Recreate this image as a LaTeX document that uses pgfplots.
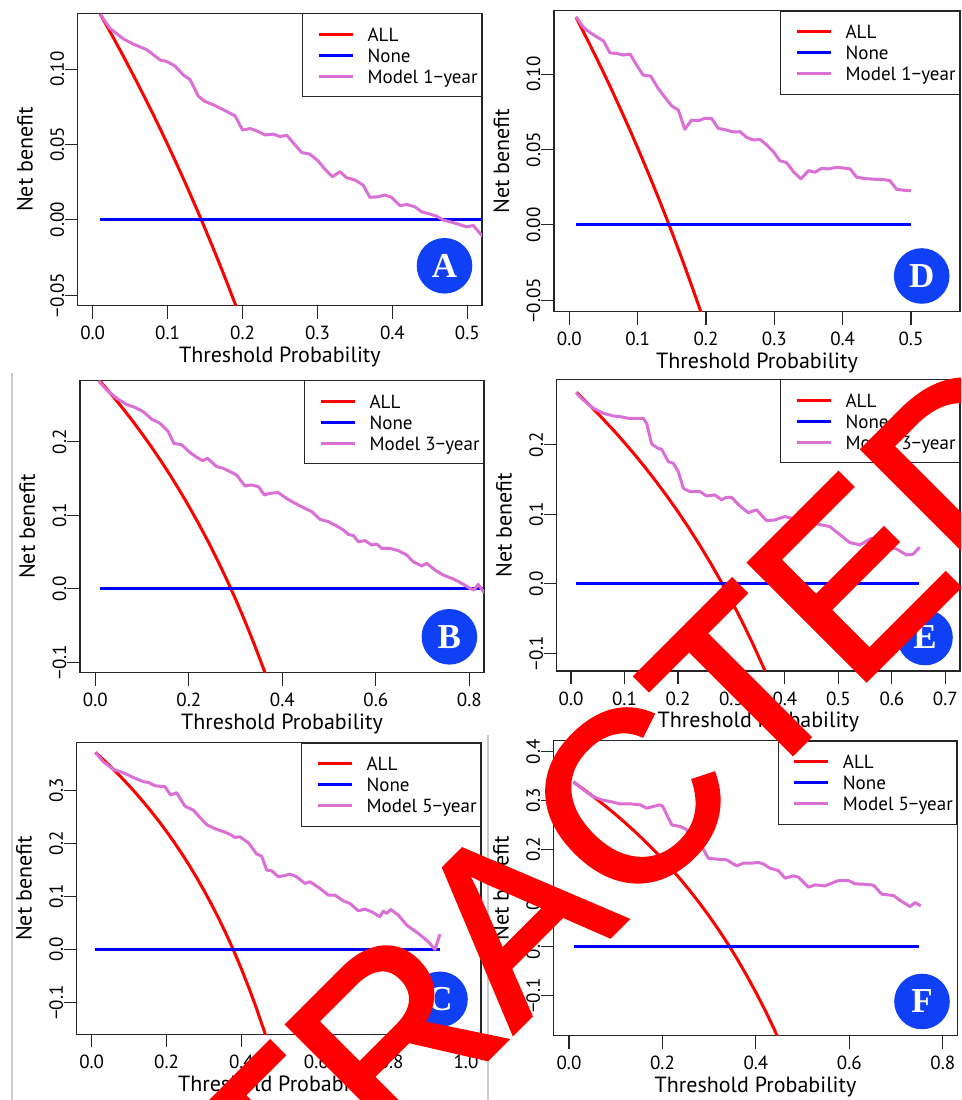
\documentclass[border=0pt]{standalone}
\usepackage{fontspec}
\setmainfont{PT Sans}
\newfontface\wmfont{Liberation Sans}[FakeBold=2]
\newfontfamily\badgefont{Liberation Serif}
\usepackage{pgfplots}
\pgfplotsset{compat=1.18}
\definecolor{orch}{RGB}{218,112,214}
\definecolor{badge}{RGB}{16,64,245}
\definecolor{allred}{RGB}{255,0,0}
\definecolor{noneblue}{RGB}{0,0,255}
\newcommand\tickfont{\fontsize{19}{21}\selectfont}
\newcommand\legfont{\fontsize{19}{21}\selectfont}
\newcommand\labfont{\fontsize{22}{24}\selectfont}
\pgfplotsset{dca/.style={
  scale only axis, clip=true, anchor=south west,
  axis line style={black!85, line width=1.1pt},
  every tick/.style={black!85, line width=1.1pt},
  major tick length=13pt, tick align=outside, tick pos=left,
  tick label style={font=\tickfont},
  yticklabel style={rotate=90, anchor=south},
  xticklabel style={anchor=north},
  xticklabel shift=4pt, yticklabel shift=-3pt,
  label style={font=\labfont},
  xlabel={Threshold Probability}, ylabel={Net benefit},
  xlabel style={at={([yshift=-57pt]axis description cs:0.5,0)}, anchor=base},
  ylabel style={at={([xshift=-45pt]axis description cs:0,0.5)}, anchor=base},
  legend style={at={(1,1)}, anchor=north east, draw=black!85, line width=1.1pt, fill=white,
    inner xsep=4pt, inner ysep=12.5pt, row sep=5.1pt, font=\legfont,
    nodes={inner sep=0pt, text height=14.8pt, text depth=1.1pt},
    /tikz/every odd column/.append style={column sep=13pt}},
  legend cell align=left,
  legend image code/.code={\path (0pt,0pt); \draw[##1, line width=3pt] (10.3pt,0pt) -- (44.7pt,0pt);},
  allc/.style={allred, line width=3pt},
  nonec/.style={noneblue, line width=3pt},
  modc/.style={orch, line width=3pt, line join=round},
}}
\tikzset{badgenode/.style={circle, fill=badge, minimum size=55.6pt, inner sep=0pt, text=white, font=\badgefont\bfseries\fontsize{35}{35}\selectfont}}
\begin{document}
\begin{tikzpicture}
\useasboundingbox (0pt,0pt) rectangle (961pt,1100pt);
\draw[black!20, line width=2pt] (11.7pt,727pt) -- (11.7pt,0pt);
\draw[black!20, line width=2pt] (487.5pt,365pt) -- (487.5pt,0pt);

% ---------- A ----------
\begin{axis}[dca, at={(77.7pt,794.3pt)}, width=404.3pt, height=292.4pt,
  xmin=-0.02, xmax=0.5196, ymin=-0.057, ymax=0.137,
  xtick={0,0.1,0.2,0.3,0.4,0.5}, xticklabels={0.0,0.1,0.2,0.3,0.4,0.5},
  ytick={-0.05,0,0.05,0.10}, yticklabels={−0.05,0.00,0.05,0.10}]
\addplot[allc] coordinates {(0.01,0.1364)(0.02,0.1276)(0.03,0.1186)(0.04,0.1094)(0.05,0.1000)(0.06,0.0904)(0.07,0.0806)(0.08,0.0707)(0.09,0.0604)(0.10,0.0500)(0.11,0.0393)(0.12,0.0284)(0.13,0.0172)(0.14,0.0058)(0.15,-0.0059)(0.16,-0.0179)(0.17,-0.0301)(0.18,-0.0427)(0.19,-0.0556)(0.20,-0.0688)};
\addlegendentry{ALL}
\addplot[nonec] coordinates {(0.01,0)(0.52,0)};
\addlegendentry{None}
\addplot[modc] coordinates {(0.010,0.1364)(0.023,0.127)(0.041,0.120)(0.054,0.1166)(0.072,0.1129)(0.090,0.106)(0.099,0.105)(0.110,0.102)(0.121,0.096)(0.130,0.093)(0.141,0.082)(0.150,0.0785)(0.161,0.0763)(0.179,0.0718)(0.190,0.069)(0.200,0.0596)(0.210,0.0605)(0.219,0.059)(0.230,0.0563)(0.241,0.0568)(0.250,0.0552)(0.259,0.0561)(0.270,0.0497)(0.279,0.0446)(0.290,0.0435)(0.301,0.039)(0.310,0.0335)(0.320,0.0286)(0.330,0.0319)(0.339,0.0279)(0.350,0.0264)(0.361,0.023)(0.370,0.0149)(0.381,0.0153)(0.390,0.0164)(0.399,0.0149)(0.410,0.0093)(0.419,0.0102)(0.430,0.0086)(0.439,0.0053)(0.450,0.0038)(0.459,0.0024)(0.468,-0.0002)(0.479,-0.0016)(0.488,-0.0029)(0.499,-0.0047)(0.508,-0.0038)(0.519,-0.0102)(0.525,-0.012)};
\addlegendentry{Model 1−year}
\end{axis}

% ---------- D ----------
\begin{axis}[dca, at={(554pt,788.3pt)}, width=406pt, height=301pt,
  xmin=-0.0224, xmax=0.5717, ymin=-0.0575, ymax=0.142,
  xtick={0,0.1,0.2,0.3,0.4,0.5}, xticklabels={0.0,0.1,0.2,0.3,0.4,0.5},
  ytick={-0.05,0,0.05,0.10}, yticklabels={−0.05,0.00,0.05,0.10}]
\addplot[allc] coordinates {(0.01,0.1374)(0.02,0.1286)(0.03,0.1196)(0.04,0.1104)(0.05,0.1011)(0.06,0.0915)(0.07,0.0817)(0.08,0.0717)(0.09,0.0615)(0.10,0.0511)(0.11,0.0404)(0.12,0.0295)(0.13,0.0184)(0.14,0.0070)(0.15,-0.0047)(0.16,-0.0167)(0.17,-0.0289)(0.18,-0.0415)(0.19,-0.0543)(0.20,-0.0675)};
\addlegendentry{ALL}
\addplot[nonec] coordinates {(0.01,0)(0.50,0)};
\addlegendentry{None}
\addplot[modc] coordinates {(0.0098,0.138)(0.0205,0.131)(0.030,0.1276)(0.040,0.1247)(0.050,0.122)(0.0595,0.114)(0.069,0.1137)(0.079,0.1126)(0.089,0.1132)(0.0985,0.106)(0.108,0.0993)(0.119,0.0987)(0.130,0.0905)(0.140,0.0845)(0.150,0.0788)(0.1595,0.0762)(0.169,0.0634)(0.179,0.0695)(0.189,0.0691)(0.198,0.0706)(0.208,0.0706)(0.218,0.064)(0.230,0.0629)(0.240,0.0616)(0.2498,0.0618)(0.2595,0.058)(0.269,0.0563)(0.279,0.0567)(0.289,0.053)(0.2985,0.0486)(0.308,0.0426)(0.318,0.0413)(0.328,0.0353)(0.339,0.0305)(0.350,0.036)(0.3595,0.0349)(0.369,0.0375)(0.379,0.0371)(0.391,0.0382)(0.401,0.0377)(0.411,0.0371)(0.4205,0.0316)(0.430,0.0309)(0.440,0.0305)(0.450,0.0302)(0.4595,0.030)(0.469,0.0294)(0.479,0.0236)(0.489,0.023)(0.500,0.0227)};
\addlegendentry{Model 1−year}
\end{axis}

% ---------- B ----------
\begin{axis}[dca, at={(80pt,427.3pt)}, width=404pt, height=292.4pt,
  xmin=-0.0328, xmax=0.8314, ymin=-0.1145, ymax=0.284,
  xtick={0,0.2,0.4,0.6,0.8}, xticklabels={0.0,0.2,0.4,0.6,0.8},
  ytick={-0.1,0,0.1,0.2}, yticklabels={−0.1,0.0,0.1,0.2}]
\addplot[allc] coordinates {(0.01,0.2828)(0.02,0.2755)(0.03,0.2680)(0.04,0.2604)(0.05,0.2526)(0.06,0.2447)(0.08,0.2283)(0.10,0.2111)(0.12,0.1932)(0.14,0.1744)(0.16,0.1548)(0.18,0.1341)(0.20,0.1125)(0.22,0.0897)(0.24,0.0658)(0.26,0.0405)(0.28,0.0139)(0.30,-0.0143)(0.32,-0.0441)(0.34,-0.0758)(0.36,-0.1094)(0.38,-0.1452)};
\addlegendentry{ALL}
\addplot[nonec] coordinates {(0.01,0)(0.84,0)};
\addlegendentry{None}
\addplot[modc] coordinates {(0.007,0.283)(0.024,0.271)(0.0456,0.2595)(0.067,0.251)(0.085,0.247)(0.103,0.241)(0.1205,0.231)(0.138,0.2255)(0.156,0.2141)(0.168,0.198)(0.185,0.196)(0.2025,0.1855)(0.217,0.179)(0.2296,0.1745)(0.2396,0.1777)(0.2595,0.1664)(0.274,0.164)(0.288,0.1595)(0.302,0.155)(0.320,0.140)(0.334,0.1414)(0.349,0.139)(0.3615,0.1277)(0.3736,0.130)(0.391,0.131)(0.409,0.123)(0.4235,0.1177)(0.441,0.1118)(0.463,0.105)(0.4806,0.0945)(0.498,0.0914)(0.516,0.0855)(0.5305,0.080)(0.541,0.074)(0.552,0.0723)(0.5626,0.064)(0.577,0.0655)(0.591,0.0595)(0.602,0.0609)(0.6125,0.055)(0.630,0.055)(0.648,0.0518)(0.666,0.0459)(0.680,0.0368)(0.698,0.0309)(0.709,0.0345)(0.7266,0.0255)(0.744,0.0186)(0.766,0.0132)(0.7836,0.0073)(0.8014,0.0005)(0.810,-0.0018)(0.819,0.0059)(0.830,-0.004)(0.84,-0.006)};
\addlegendentry{Model 3−year}
\end{axis}

% ---------- E ----------
\begin{axis}[dca, at={(556.7pt,429pt)}, width=403.3pt, height=291.7pt,
  xmin=-0.0268, xmax=0.7274, ymin=-0.1254, ymax=0.2945,
  xtick={0,0.1,0.2,0.3,0.4,0.5,0.6,0.7}, xticklabels={0.0,0.1,0.2,0.3,0.4,0.5,0.6,0.7},
  ytick={-0.1,0,0.1,0.2}, yticklabels={−0.1,0.0,0.1,0.2}]
\addplot[allc] coordinates {(0.01,0.2758)(0.02,0.2684)(0.03,0.2608)(0.04,0.2531)(0.05,0.2453)(0.06,0.2372)(0.08,0.2207)(0.10,0.2033)(0.12,0.1852)(0.14,0.1663)(0.16,0.1464)(0.18,0.1256)(0.20,0.1038)(0.22,0.0808)(0.24,0.0566)(0.26,0.0311)(0.28,0.0042)(0.30,-0.0243)(0.32,-0.0544)(0.34,-0.0864)(0.36,-0.1203)(0.38,-0.1565)};
\addlegendentry{ALL}
\addplot[nonec] coordinates {(0.01,0)(0.65,0)};
\addlegendentry{None}
\addplot[modc] coordinates {(0.0093,0.2753)(0.023,0.2647)(0.0417,0.2528)(0.0604,0.2456)(0.079,0.2417)(0.0915,0.2408)(0.107,0.2384)(0.1227,0.2384)(0.135,0.2384)(0.1414,0.2312)(0.1507,0.2014)(0.163,0.195)(0.1694,0.1938)(0.1818,0.176)(0.1912,0.1736)(0.2005,0.1616)(0.210,0.1376)(0.2223,0.1329)(0.241,0.1329)(0.2535,0.1266)(0.269,0.128)(0.2815,0.1209)(0.2908,0.1247)(0.300,0.1247)(0.3157,0.1122)(0.3313,0.1026)(0.347,0.1065)(0.3656,0.0911)(0.381,0.092)(0.400,0.0969)(0.415,0.094)(0.430,0.090)(0.445,0.089)(0.459,0.0863)(0.484,0.0825)(0.4995,0.0729)(0.521,0.0595)(0.540,0.0561)(0.5617,0.0657)(0.575,0.058)(0.585,0.054)(0.596,0.0513)(0.6085,0.0504)(0.627,0.0417)(0.6396,0.0427)(0.652,0.0528)};
\addlegendentry{Model 3−year}
\end{axis}

% ---------- C ----------
\begin{axis}[dca, at={(76.7pt,65.7pt)}, width=404.3pt, height=291.6pt,
  xmin=-0.04, xmax=1.04, ymin=-0.16, ymax=0.39,
  xtick={0,0.2,0.4,0.6,0.8,1.0}, xticklabels={0.0,0.2,0.4,0.6,0.8,1.0},
  ytick={-0.1,0,0.1,0.2,0.3}, yticklabels={−0.1,0.0,0.1,0.2,0.3}]
\addplot[allc] coordinates {(0.01,0.3717)(0.02,0.3653)(0.04,0.3521)(0.06,0.3383)(0.08,0.3239)(0.10,0.3089)(0.12,0.2932)(0.14,0.2767)(0.16,0.2595)(0.18,0.2415)(0.20,0.2225)(0.22,0.2026)(0.24,0.1816)(0.26,0.1595)(0.28,0.1361)(0.30,0.1114)(0.32,0.0853)(0.34,0.0576)(0.36,0.0281)(0.38,-0.0032)(0.40,-0.0367)(0.42,-0.0724)(0.44,-0.1107)(0.46,-0.1519)(0.48,-0.1962)};
\addlegendentry{ALL}
\addplot[nonec] coordinates {(0.01,0)(0.93,0)};
\addlegendentry{None}
\addplot[modc] coordinates {(0.0107,0.371)(0.031,0.354)(0.058,0.3396)(0.0846,0.3333)(0.111,0.3245)(0.138,0.3164)(0.1514,0.315)(0.169,0.3088)(0.196,0.3069)(0.211,0.2912)(0.227,0.2956)(0.249,0.2704)(0.2716,0.2629)(0.289,0.249)(0.309,0.2346)(0.332,0.227)(0.3535,0.222)(0.3695,0.217)(0.383,0.2113)(0.396,0.2126)(0.4185,0.2013)(0.441,0.1799)(0.454,0.176)(0.4675,0.1497)(0.481,0.1484)(0.4987,0.1371)(0.512,0.139)(0.530,0.1421)(0.5476,0.1371)(0.570,0.1245)(0.583,0.1277)(0.610,0.1151)(0.632,0.1025)(0.650,0.1025)(0.672,0.0918)(0.690,0.0868)(0.712,0.073)(0.730,0.0761)(0.748,0.0711)(0.770,0.0616)(0.779,0.0723)(0.788,0.0679)(0.7988,0.0755)(0.819,0.0648)(0.8415,0.0459)(0.8727,0.0302)(0.8994,0.0145)(0.917,0.0)(0.9306,0.0289)};
\addlegendentry{Model 5−year}
\end{axis}

% ---------- F ----------
\begin{axis}[dca, at={(553.7pt,64.3pt)}, width=403.6pt, height=295pt,
  xmin=-0.0328, xmax=0.831, ymin=-0.182, ymax=0.4226,
  xtick={0,0.2,0.4,0.6,0.8}, xticklabels={0.0,0.2,0.4,0.6,0.8},
  ytick={-0.1,0,0.1,0.2,0.3,0.4}, yticklabels={−0.1,0.0,0.1,0.2,0.3,0.4}]
\addplot[allc] coordinates {(0.01,0.3374)(0.02,0.3306)(0.04,0.3167)(0.06,0.3021)(0.08,0.2870)(0.10,0.2711)(0.12,0.2545)(0.14,0.2372)(0.16,0.2190)(0.18,0.2000)(0.20,0.1800)(0.22,0.1590)(0.24,0.1368)(0.26,0.1135)(0.28,0.0889)(0.30,0.0629)(0.32,0.0353)(0.34,0.0061)(0.36,-0.0250)(0.38,-0.0583)(0.40,-0.0933)(0.42,-0.1305)(0.44,-0.1706)(0.46,-0.2148)};
\addlegendentry{ALL}
\addplot[nonec] coordinates {(0.01,0)(0.75,0)};
\addlegendentry{None}
\addplot[modc] coordinates {(0.0093,0.339)(0.0307,0.322)(0.052,0.308)(0.070,0.3014)(0.0878,0.298)(0.109,0.2932)(0.1306,0.2932)(0.152,0.2912)(0.1663,0.2843)(0.1806,0.2878)(0.195,0.2912)(0.2005,0.2878)(0.220,0.250)(0.2377,0.2468)(0.2505,0.2413)(0.266,0.2194)(0.284,0.2057)(0.298,0.1818)(0.316,0.1798)(0.3376,0.1784)(0.359,0.166)(0.373,0.1716)(0.391,0.1716)(0.405,0.173)(0.416,0.170)(0.430,0.1613)(0.448,0.1565)(0.4624,0.1408)(0.480,0.1456)(0.491,0.1429)(0.5124,0.1224)(0.5267,0.1271)(0.548,0.1251)(0.5624,0.1306)(0.5766,0.136)(0.598,0.136)(0.6123,0.1292)(0.630,0.1285)(0.6516,0.1265)(0.6694,0.108)(0.6944,0.1053)(0.712,0.093)(0.730,0.0827)(0.7408,0.0909)(0.753,0.084)};
\addlegendentry{Model 5−year}
\end{axis}

\node[badgenode] at (444.5pt,834.2pt) {A};
\node[badgenode] at (921.7pt,824.0pt) {D};
\node[badgenode] at (449.4pt,463.2pt) {B};
\node[badgenode] at (925pt,462.5pt) {E};
\node[badgenode] at (440pt,100.7pt) {C};
\node[badgenode] at (922pt,98.5pt) {F};

\begin{scope}
\clip (0pt,0pt) rectangle (961pt,1100pt);
\node[rotate=45, anchor=base, inner sep=0pt, text=allred, font=\wmfont\fontsize{240}{240}\selectfont] at (570pt,124pt) {RETRACTED};
\end{scope}
\end{tikzpicture}
\end{document}
